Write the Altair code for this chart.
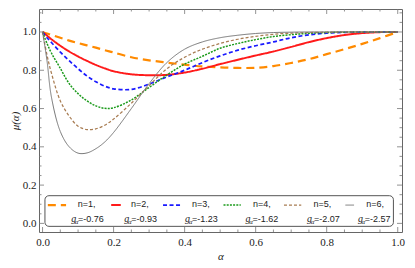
import altair as alt
import pandas as pd

# ---------------- data ----------------
alpha = [0, 0.0125, 0.025, 0.05, 0.075, 0.1, 0.125, 0.15, 0.175, 0.2, 0.25, 0.3, 0.35,
         0.4, 0.45, 0.5, 0.55, 0.6, 0.65, 0.7, 0.75, 0.8, 0.85, 0.9, 0.95, 1.0]

labels = ["n=1", "n=2", "n=3", "n=4", "n=5", "n=6"]
g_values = ["-0.76", "-0.93", "-1.23", "-1.62", "-2.07", "-2.57"]

mu_n1 = [1.0, 0.992, 0.985, 0.97, 0.955, 0.942, 0.93, 0.918, 0.905, 0.893, 0.868, 0.852, 0.84,
         0.829, 0.82, 0.815, 0.812, 0.813, 0.822, 0.838, 0.858, 0.884, 0.91, 0.938, 0.968, 1.0]
mu_n2 = [1.0, 0.981, 0.962, 0.928, 0.898, 0.872, 0.849, 0.828, 0.81, 0.795, 0.779, 0.774, 0.776,
         0.788, 0.808, 0.832, 0.855, 0.877, 0.898, 0.922, 0.947, 0.968, 0.984, 0.994, 0.999, 1.0]
mu_n3 = [1.0, 0.97, 0.945, 0.895, 0.85, 0.808, 0.77, 0.74, 0.717, 0.703, 0.7, 0.728, 0.765,
         0.8, 0.84, 0.875, 0.905, 0.928, 0.948, 0.97, 0.985, 0.994, 0.998, 1.0, 1.0, 1.0]
mu_n4 = [1.0, 0.94, 0.89, 0.81, 0.73, 0.678, 0.64, 0.614, 0.601, 0.604, 0.645, 0.71, 0.775,
         0.832, 0.873, 0.915, 0.94, 0.96, 0.976, 0.986, 0.993, 0.997, 0.999, 1.0, 1.0, 1.0]
mu_n5 = [1.0, 0.88, 0.785, 0.64, 0.56, 0.508, 0.49, 0.494, 0.513, 0.545, 0.628, 0.72, 0.808,
         0.868, 0.91, 0.94, 0.962, 0.977, 0.988, 0.994, 0.997, 0.999, 1.0, 1.0, 1.0, 1.0]
mu_n6 = [1.0, 0.85, 0.66, 0.48, 0.4, 0.367, 0.368, 0.39, 0.425, 0.475, 0.6, 0.73, 0.84,
         0.91, 0.948, 0.97, 0.983, 0.992, 0.997, 0.999, 1.0, 1.0, 1.0, 1.0, 1.0, 1.0]
series = [mu_n1, mu_n2, mu_n3, mu_n4, mu_n5, mu_n6]

x_major = [0.0, 0.2, 0.4, 0.6, 0.8, 1.0]
y_major = [0.0, 0.2, 0.4, 0.6, 0.8, 1.0]

# ---------------- styles ----------------
colors = ["#ff8a00", "#ff1a1a", "#1a1aff", "#1a9a1a", "#a87c52", "#777777"]
dashes = [[8, 5], [1, 0], [4, 2.5], [2, 1.2], [3, 2], [1, 0]]
widths = [2.2, 1.0, 1.3, 1.4, 1.3, 1.4]
TICK = "#777777"
FRAME = "#666666"

W, H = 363, 223
X_DOM = [-0.01, 1.012]
Y_DOM = [-0.045, 1.12]

x_minor = [round(i * 0.05, 2) for i in range(21) if i % 4 != 0]
y_minor = [round(i * 0.05, 2) for i in range(23) if i % 4 != 0]

# legend layout (in reference pixels, converted to data units)
def dx(px):
    return (px - 37.5) / 370.0

def dy(py):
    return (226.0 - py) / 193.5

leg_sample = [(43, 62), (109, 119), (163, 182), (226, 244), (289, 307), (353, 362)]
leg_ncenter = [83.5, 139, 202.5, 266, 329, 384]
leg_gleft = [67.3, 122.7, 186, 249, 313, 366]

# ---------------- frames ----------------
rows = []
for lab, ys in zip(labels, series):
    for a, m in zip(alpha, ys):
        rows.append({"alpha": a, "mu": m, "n": lab})
df = pd.DataFrame(rows)

x_scale = alt.Scale(domain=X_DOM, nice=False, zero=False)
y_scale = alt.Scale(domain=Y_DOM, nice=False, zero=False)
color_scale = alt.Scale(domain=labels, range=colors)
dash_scale = alt.Scale(domain=labels, range=dashes)
width_scale = alt.Scale(domain=labels, range=widths)

axis_common = dict(ticks=False, domain=False, grid=False, format=".1f",
                   labelFont="Liberation Serif", labelFontSize=11, labelColor="#222222",
                   titleFont="Liberation Serif", titleFontSize=11, titleFontStyle="italic",
                   titleFontWeight="normal", titleColor="#222222")
AX = alt.Axis(values=x_major, labelPadding=4, title="α", titlePadding=3, **axis_common)
AY = alt.Axis(values=y_major, labelPadding=3, title="μ(α)", titlePadding=2, **axis_common)


def X(field):
    return alt.X(field, scale=x_scale, axis=AX)


def Y(field):
    return alt.Y(field, scale=y_scale, axis=AY)


lines = alt.Chart(df).mark_line(interpolate="catmull-rom", clip=True).encode(
    x=X("alpha:Q"),
    y=Y("mu:Q"),
    color=alt.Color("n:N", scale=color_scale, legend=None),
    strokeDash=alt.StrokeDash("n:N", scale=dash_scale, legend=None),
    strokeWidth=alt.StrokeWidth("n:N", scale=width_scale, legend=None),
    detail="n:N",
)


def xticks(vals, length):
    d = pd.DataFrame({"v": vals})
    base = alt.Chart(d).mark_rule(color=TICK, strokeWidth=0.8)
    bottom = base.encode(x=X("v:Q"), y=alt.value(H), y2=alt.value(H - length))
    top = base.encode(x=X("v:Q"), y=alt.value(0), y2=alt.value(length))
    return [bottom, top]


def yticks(vals, length):
    d = pd.DataFrame({"v": vals})
    base = alt.Chart(d).mark_rule(color=TICK, strokeWidth=0.8)
    left = base.encode(y=Y("v:Q"), x=alt.value(0), x2=alt.value(length))
    right = base.encode(y=Y("v:Q"), x=alt.value(W), x2=alt.value(W - length))
    return [left, right]


tick_layers = xticks(x_major, 5) + xticks(x_minor, 2.5) + yticks(y_major, 5) + yticks(y_minor, 2.5)

box_df = pd.DataFrame({"x1": [dx(40)], "x2": [dx(403)], "y1": [dy(198)], "y2": [dy(229)]})
box = alt.Chart(box_df).mark_rect(fill="white", stroke="#555555", strokeWidth=1,
                                  cornerRadius=4).encode(
    x=X("x1:Q"), x2="x2:Q", y=Y("y1:Q"), y2="y2:Q")

samp_df = pd.DataFrame({
    "n": labels,
    "xs": [dx(a) for a, b in leg_sample],
    "xe": [dx(b) for a, b in leg_sample],
    "y": [dy(207.5)] * 6,
})
samples = alt.Chart(samp_df).mark_rule().encode(
    x=X("xs:Q"), x2="xe:Q", y=Y("y:Q"),
    color=alt.Color("n:N", scale=color_scale, legend=None),
    strokeDash=alt.StrokeDash("n:N", scale=dash_scale, legend=None),
    strokeWidth=alt.StrokeWidth("n:N", scale=width_scale, legend=None),
)

ntext_df = pd.DataFrame({"t": [l + "," for l in labels],
                         "x": [dx(c) for c in leg_ncenter],
                         "y": [dy(206.7)] * 6})
ntext = alt.Chart(ntext_df).mark_text(font="Liberation Sans", fontSize=9, align="center",
                                      baseline="middle", color="#222222").encode(
    x=X("x:Q"), y=Y("y:Q"), text="t:N")

g_df = pd.DataFrame({"g": ["g"] * 6, "a": ["α"] * 6, "t": ["=" + v for v in g_values],
                     "xg": [dx(p) for p in leg_gleft],
                     "xa": [dx(p + 3.8) for p in leg_gleft],
                     "xt": [dx(p + 7.2) for p in leg_gleft],
                     "y": [dy(221.7)] * 6})
g_mark = alt.Chart(g_df).mark_text(font="Liberation Serif", fontSize=10, fontStyle="italic",
                                   align="left", baseline="middle", color="#222222").encode(
    x=X("xg:Q"), y=Y("y:Q"), text="g:N")
a_mark = alt.Chart(g_df).mark_text(font="Liberation Serif", fontSize=7, fontStyle="italic",
                                   align="left", baseline="middle", dy=2.5, color="#222222").encode(
    x=X("xa:Q"), y=Y("y:Q"), text="a:N")
t_mark = alt.Chart(g_df).mark_text(font="Liberation Sans", fontSize=9,
                                   align="left", baseline="middle", color="#222222").encode(
    x=X("xt:Q"), y=Y("y:Q"), text="t:N")

chart = alt.layer(lines, *tick_layers, box, samples, ntext, g_mark, a_mark, t_mark).properties(
    width=W, height=H,
    padding={"left": 31, "top": 1, "right": 5, "bottom": 28},
    autosize=alt.AutoSizeParams(type="none"),
    background="white",
).configure_view(stroke=FRAME, strokeWidth=1)

chart.save("out.html", embed_options={"renderer": "svg", "actions": False})
